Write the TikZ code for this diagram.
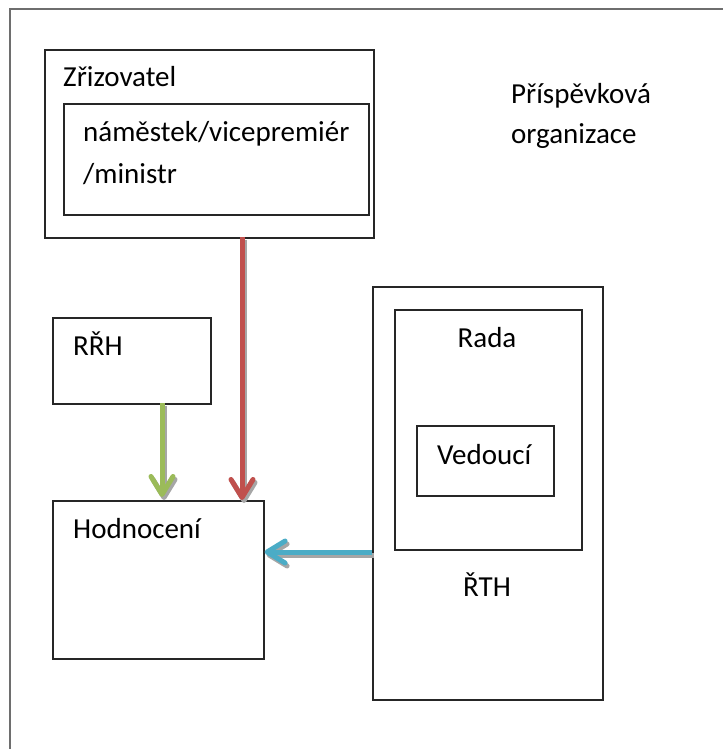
\documentclass[tikz,border=0pt]{standalone}
\usepackage{fontspec}
\setmainfont{Carlito}
\usetikzlibrary{arrows.meta,positioning}
\definecolor{arrred}{HTML}{C0504D}
\definecolor{arrgreen}{HTML}{9BBB59}
\definecolor{arrblue}{HTML}{4BACC6}
\definecolor{shade}{HTML}{A6A6A6}
\definecolor{pageframe}{HTML}{6E6E6E}

\tikzset{
  box/.style={draw=black!85, line width=1.6pt, inner sep=0pt, anchor=north west},
  lbl/.style={inner sep=0pt, anchor=base west, font=\fontsize{29}{40}\selectfont},
  flow/.style={line width=5pt, -{Straight Barb[length=18pt,width=22pt,round]},
    preaction={draw=shade, line width=5pt, -{Straight Barb[length=18pt,width=22pt,round]},
      transform canvas={shift={(2pt,-3pt)}}}}
}

\begin{document}
\begin{tikzpicture}[x=1pt,y=-1pt]
  \useasboundingbox (0,0) rectangle (723,749);
  % page frame
  \draw[pageframe, line width=2pt] (10,749) |- (723,9);

  % boxes
  \node[box, minimum width=329pt, minimum height=188pt] (zriz) at (44,49) {};
  \node[box, minimum width=305pt, minimum height=111pt] (nam) at (63,103) {};
  \node[box, minimum width=158pt, minimum height=86pt] (rrh) at (52,317) {};
  \node[box, minimum width=211pt, minimum height=158pt] (hodn) at (52,500) {};
  \node[box, minimum width=230pt, minimum height=413pt] (rth) at (372,286) {};
  \node[box, minimum width=187pt, minimum height=240pt] (rada) at (394,309) {};
  \node[box, minimum width=137pt, minimum height=70pt] (ved) at (416,425) {};

  % texts
  \node[lbl] (tzriz) at (63,87) {Zřizovatel};
  \node[lbl] (tnam) at (83,142) {náměstek/vicepremiér};
  \node[lbl] (tmin) at (83,183) {/ministr};
  \node[lbl] (tpris) at (511,103) {Příspěvková};
  \node[lbl] (torg) at (511,143) {organizace};
  \node[lbl] (trrh) at (73,355) {RŘH};
  \node[lbl] (thodn) at (73,538) {Hodnocení};
  \node[lbl, anchor=base] (trada) at (487,347) {Rada};
  \node[lbl] (tved) at (437,464) {Vedoucí};
  \node[lbl] (trth) at (463,596) {ŘTH};

  % arrows
  \coordinate (redtop) at (242,237);
  \coordinate (greentop) at (162,403);
  \coordinate (bluestart) at (372,552);
  \draw[flow, arrred] (redtop) -- (redtop |- hodn.north);
  \draw[flow, arrgreen] (greentop) -- ([yshift=3pt]greentop |- hodn.north);
  \draw[flow, arrblue] (bluestart) -- (bluestart -| hodn.east);
\end{tikzpicture}
\end{document}
